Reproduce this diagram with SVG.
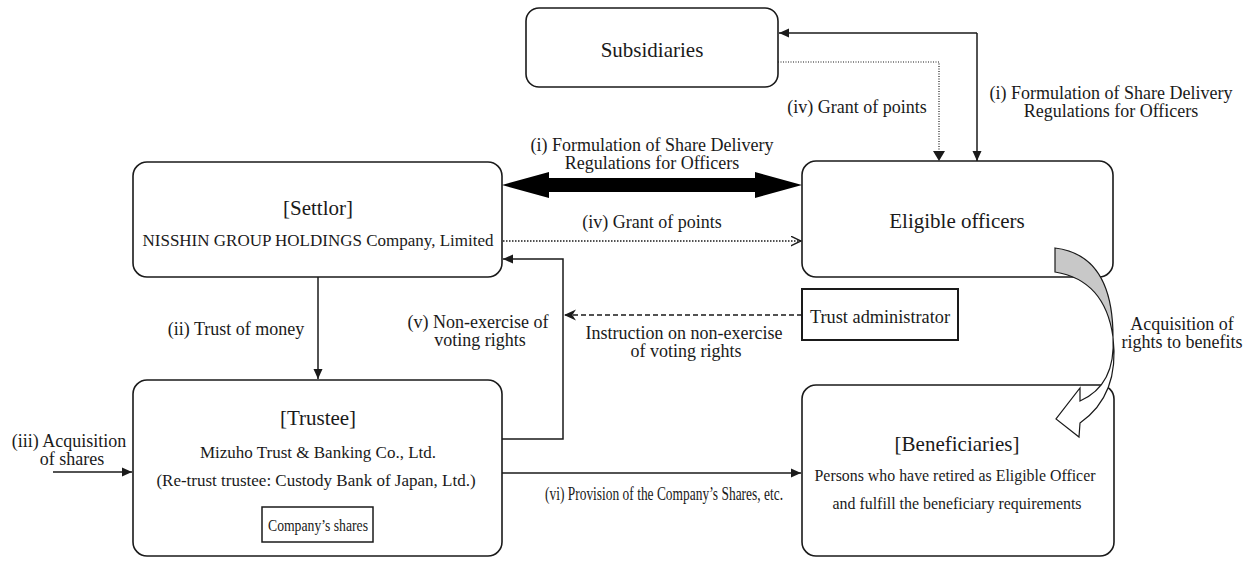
<svg xmlns="http://www.w3.org/2000/svg" width="1255" height="561" viewBox="0 0 1255 561">
<style>
.box{fill:#fff;stroke:#1a1a1a;stroke-width:1.6}
.sq{fill:#fff;stroke:#1a1a1a;stroke-width:2}
.t{font-family:"Liberation Serif","Times New Roman",serif;fill:#1a1a1a;text-anchor:middle}
.lbl{font-size:18px}
.ttl{font-size:21px}
.sub{font-size:17px}
.ln{fill:none;stroke:#1a1a1a;stroke-width:1.5}
.dot{fill:none;stroke:#1a1a1a;stroke-width:1.5;stroke-dasharray:1.5 1.5}
.dotf{fill:none;stroke:#1a1a1a;stroke-width:1.2;stroke-dasharray:1 1.5}
.dash{fill:none;stroke:#1a1a1a;stroke-width:1.3;stroke-dasharray:5 3}
</style>
<defs>
<marker id="ah" viewBox="0 0 10 10" refX="10" refY="5" markerWidth="10" markerHeight="10" markerUnits="userSpaceOnUse" orient="auto">
<path d="M0,0.5 L10,5 L0,9.5 Z" fill="#1a1a1a"/>
</marker>
<marker id="ahs" viewBox="0 0 10 10" refX="10" refY="5" markerWidth="12" markerHeight="12" markerUnits="userSpaceOnUse" orient="auto">
<path d="M0,0.5 L10,5 L0,9.5 L3,5 Z" fill="#1a1a1a"/>
</marker>
<marker id="aho" viewBox="0 0 10 10" refX="9.5" refY="5" markerWidth="11" markerHeight="11" markerUnits="userSpaceOnUse" orient="auto">
<path d="M0,0.5 L9.5,5 L0,9.5" fill="none" stroke="#1a1a1a" stroke-width="1.3"/>
</marker>
</defs>

<g id="subsidiaries">
<rect class="box" x="526" y="8" width="252" height="79" rx="13"/>
<text class="t ttl" x="652" y="57">Subsidiaries</text>
</g>

<g id="settlor">
<rect class="box" x="133" y="162" width="369" height="115" rx="14"/>
<text class="t ttl" x="318" y="215">[Settlor]</text>
<text class="t sub" x="318" y="246">NISSHIN GROUP HOLDINGS Company, Limited</text>
</g>

<g id="eligible-officers">
<rect class="box" x="802" y="161" width="311" height="116" rx="14"/>
<text class="t ttl" x="957" y="228">Eligible officers</text>
</g>

<g id="trust-administrator">
<rect class="sq" x="802" y="289" width="156" height="51"/>
<text class="t lbl" x="880" y="323" textLength="140" lengthAdjust="spacingAndGlyphs">Trust administrator</text>
</g>

<g id="trustee">
<rect class="box" x="133" y="380" width="369" height="176" rx="14"/>
<text class="t ttl" x="318" y="425">[Trustee]</text>
<text class="t sub" x="318" y="458">Mizuho Trust &amp; Banking Co., Ltd.</text>
<text class="t sub" x="316" y="486">(Re-trust trustee: Custody Bank of Japan, Ltd.)</text>
<rect class="sq" x="262" y="507" width="111" height="35" style="stroke-width:1.5"/>
<text class="t" style="font-size:17.5px" x="318" y="531" textLength="100" lengthAdjust="spacingAndGlyphs">Company’s shares</text>
</g>

<g id="beneficiaries">
<rect class="box" x="802" y="385" width="312" height="171" rx="14"/>
<text class="t ttl" x="957" y="451">[Beneficiaries]</text>
<text class="t" style="font-size:16.5px" x="955" y="481" textLength="281" lengthAdjust="spacingAndGlyphs">Persons who have retired as Eligible Officer</text>
<text class="t" style="font-size:16.5px" x="957" y="509" textLength="249" lengthAdjust="spacingAndGlyphs">and fulfill the beneficiary requirements</text>
</g>

<g id="connectors">
<path class="ln" d="M977,33 H779" marker-end="url(#ah)"/>
<path class="ln" d="M977,33 V161" marker-end="url(#ah)"/>
<text class="t lbl" x="1111" y="99">(i) Formulation of Share Delivery</text>
<text class="t lbl" x="1111" y="117">Regulations for Officers</text>
<path class="dotf" d="M778,62 H939 V152"/>
<path d="M933,151 L945,151 L939,161 Z" fill="#1a1a1a"/>
<text class="t lbl" x="857" y="113">(iv) Grant of points</text>
<polygon points="502,185 549,172 549,178 755,178 755,172 802,185 755,198 755,192 549,192 549,198" fill="#000"/>
<text class="t lbl" x="652" y="151">(i) Formulation of Share Delivery</text>
<text class="t lbl" x="652" y="169">Regulations for Officers</text>
<path class="dot" d="M503,241 H801" marker-end="url(#aho)"/>
<text class="t lbl" x="652" y="228">(iv) Grant of points</text>
<path class="ln" d="M318,277 V379" marker-end="url(#ah)"/>
<text class="t lbl" x="236" y="335">(ii) Trust of money</text>
<path class="ln" d="M502,439 H563 V259 H503" marker-end="url(#ah)"/>
<text class="t lbl" x="478" y="328">(v) Non-exercise of</text>
<text class="t lbl" x="480" y="346">voting rights</text>
<path class="dash" d="M802,315 H564" marker-end="url(#ahs)"/>
<text class="t lbl" x="684" y="339">Instruction on non-exercise</text>
<text class="t lbl" x="686" y="357">of voting rights</text>
<path class="ln" d="M53,472 H132" marker-end="url(#ah)"/>
<text class="t lbl" x="69" y="447">(iii) Acquisition</text>
<text class="t lbl" x="72" y="465">of shares</text>
<path class="ln" d="M502,473 H801" marker-end="url(#ah)"/>
<text class="t" style="font-size:18.5px" x="664" y="500" textLength="238" lengthAdjust="spacingAndGlyphs">(vi) Provision of the Company’s Shares, etc.</text>
<path d="M1055,248 Q1113,255 1113,337 Q1105,280 1055,272 Z" fill="#c8c8c8" stroke="#1a1a1a" stroke-width="1.2"/>
<path d="M1113,337 Q1116,385 1080,401 L1080,388 L1056,419 L1079,437 L1080,423 Q1120,395 1113,337 Z" fill="#fff" stroke="#1a1a1a" stroke-width="1.2"/>
<text class="t lbl" x="1182" y="330">Acquisition of</text>
<text class="t lbl" x="1182" y="348">rights to benefits</text>
</g>
</svg>
